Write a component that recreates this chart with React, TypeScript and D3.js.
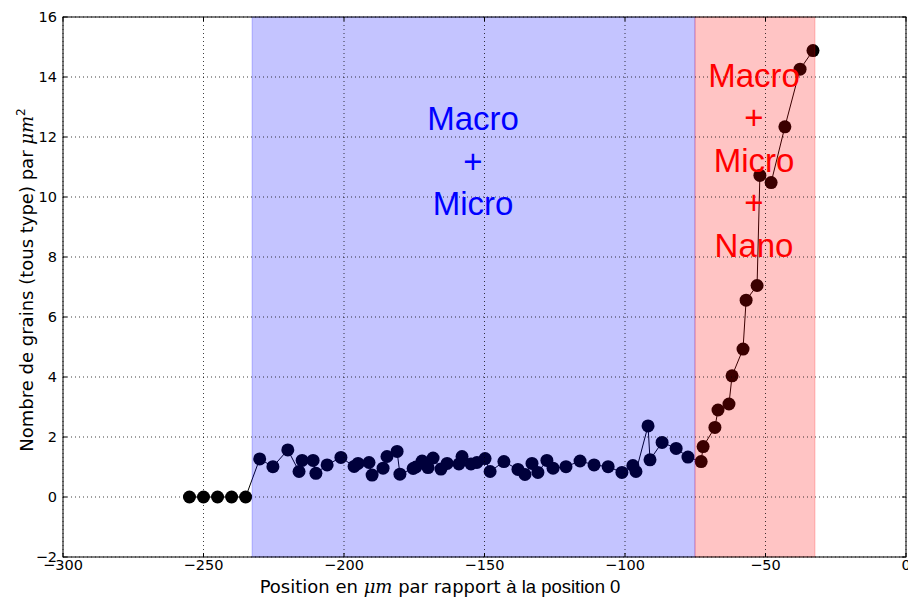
import React from "react";
import * as d3 from "d3";

const positions = [
  -255, -250, -245, -240, -235,
  -230, -225.3, -220, -216, -214.9, -211, -210, -206, -201.1, -196.4, -195, -191.1, -190,
  -186.1, -184.7, -181.1, -180.1, -175.4, -174.4, -172.2, -170.1, -168.3, -165.5, -163.3,
  -159.1, -158, -154.8, -152.7, -149.8, -148, -143.1, -138.1, -135.6, -133.1, -131,
  -127.8, -125.6, -121, -116, -111, -106, -101.1, -97.2, -96.1, -91.8, -91.1, -86.8,
  -81.8, -77.6, -72.9, -72.2, -68, -66.9, -63, -61.9, -58, -56.9, -53, -52, -48, -43.1,
  -37.7, -33.1,
];
const grains = [
  0, 0, 0, 0, 0,
  1.27, 1.01, 1.57, 0.85, 1.22, 1.22, 0.79, 1.07, 1.32, 1.02, 1.12, 1.15, 0.73,
  0.96, 1.35, 1.52, 0.76, 0.95, 1.0, 1.2, 0.98, 1.3, 0.93, 1.12,
  1.1, 1.35, 1.1, 1.15, 1.28, 0.85, 1.18, 0.92, 0.75, 1.12, 0.82,
  1.22, 0.96, 1.01, 1.2, 1.07, 1.01, 0.82, 1.05, 0.85, 2.37, 1.24, 1.82,
  1.62, 1.33, 1.18, 1.68, 2.32, 2.9, 3.1, 4.04, 4.93, 6.56, 7.05, 10.72, 10.48, 12.34,
  14.26, 14.88,
];
const xTicks = [-300, -250, -200, -150, -100, -50, 0];
const yTicks = [-2, 0, 2, 4, 6, 8, 10, 12, 14, 16];
const blueSpan = [-232.7, -75.1];
const redSpan = [-75.1, -32.4];
const blueLabel = ["Macro", "+", "Micro"];
const redLabel = ["Macro", "+", "Micro", "+", "Nano"];

const W = 908, H = 597;
const L = 63, R = 906, T = 17, B = 557;

export default function App() {
  const x = d3.scaleLinear().domain([-300, 0]).range([L, R]);
  const y = d3.scaleLinear().domain([-2, 16]).range([B, T]);
  const pts = positions.map((p, i) => [p, grains[i]] as [number, number]);
  const line = d3.line<[number, number]>().x(d => x(d[0])).y(d => y(d[1]));
  const fmt = (v: number) => (v < 0 ? "\u2212" + Math.abs(v) : String(v));
  const dv = "DejaVu Sans";
  const alpha = 0.23;
  return (
    <svg width={W} height={H} style={{ position: "absolute", left: 0, top: 0, background: "#fff" }}>
      <rect x={0} y={0} width={W} height={H} fill="#fff" />
      <path d={line(pts) || ""} fill="none" stroke="#000" strokeWidth={1} />
      {pts.map((d, i) => (
        <circle key={i} cx={x(d[0])} cy={y(d[1])} r={6.5} fill="#000" />
      ))}
      <rect x={x(blueSpan[0])} y={T} width={x(blueSpan[1]) - x(blueSpan[0])} height={B - T}
        fill="#0000ff" fillOpacity={alpha} stroke="#0000ff" strokeOpacity={alpha} strokeWidth={1} />
      <rect x={x(redSpan[0])} y={T} width={x(redSpan[1]) - x(redSpan[0])} height={B - T}
        fill="#ff0000" fillOpacity={alpha} stroke="#ff0000" strokeOpacity={alpha} strokeWidth={1} />
      {xTicks.map(t => (
        <line key={"gx" + t} x1={x(t)} x2={x(t)} y1={T} y2={B} stroke="#000" strokeWidth={1}
          strokeDasharray="1,3" strokeOpacity={0.75} />
      ))}
      {yTicks.map(t => (
        <line key={"gy" + t} x1={L} x2={R} y1={y(t)} y2={y(t)} stroke="#000" strokeWidth={1}
          strokeDasharray="1,3" strokeOpacity={0.75} />
      ))}
      {blueLabel.map((s, i) => (
        <text key={"b" + i} x={473} y={130 + i * 42.5} textAnchor="middle" fill="#0000ff"
          fontFamily="Liberation Sans" fontSize={33}>{s}</text>
      ))}
      {redLabel.map((s, i) => (
        <text key={"r" + i} x={754} y={86.7 + i * 42.5} textAnchor="middle" fill="#ff0000"
          fontFamily="Liberation Sans" fontSize={33}>{s}</text>
      ))}
      <rect x={L} y={T} width={R - L} height={B - T} fill="none" stroke="#000" strokeWidth={1} />
      {xTicks.map(t => (
        <g key={"tx" + t}>
          <line x1={x(t)} x2={x(t)} y1={B} y2={B - 4} stroke="#000" />
          <line x1={x(t)} x2={x(t)} y1={T} y2={T + 4} stroke="#000" />
          <text x={x(t)} y={570} textAnchor="middle" fontFamily={dv} fontSize={14.5}>{fmt(t)}</text>
        </g>
      ))}
      {yTicks.map(t => (
        <g key={"ty" + t}>
          <line x1={L} x2={L + 4} y1={y(t)} y2={y(t)} stroke="#000" />
          <line x1={R} x2={R - 4} y1={y(t)} y2={y(t)} stroke="#000" />
          <text x={57} y={y(t)} dy="0.36em" textAnchor="end" fontFamily={dv} fontSize={14.5}>{fmt(t)}</text>
        </g>
      ))}
      <text x={440} y={593} textAnchor="middle" fontSize={18} fontFamily={dv}>
        <tspan>Position en </tspan>
        <tspan fontFamily="DejaVu Serif" fontStyle="italic">μm</tspan>
        <tspan> par rapport </tspan>
        <tspan fontFamily="Liberation Sans" fontSize={18.5}>à la position 0</tspan>
      </text>
      <text transform="translate(33,280) rotate(-90)" textAnchor="middle" fontSize={18} fontFamily={dv}>
        <tspan>Nombre de grains (tous type) par </tspan>
        <tspan fontFamily="DejaVu Serif" fontStyle="italic">μm</tspan>
        <tspan fontSize={12} dy={-8}>2</tspan>
      </text>
    </svg>
  );
}
